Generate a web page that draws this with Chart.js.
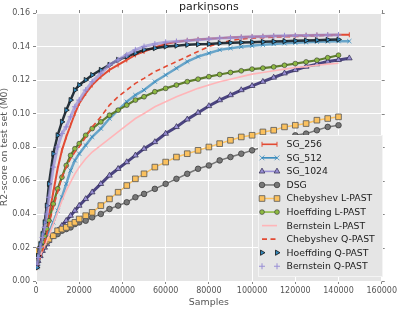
<!DOCTYPE html>
<html>
<head>
<meta charset="utf-8">
<script src="https://cdn.jsdelivr.net/npm/chart.js@4.4.0/dist/chart.umd.min.js"></script>
<style>
  html, body { margin: 0; padding: 0; background: #fff; }
  #wrap { width: 399px; height: 309px; position: relative; }
</style>
</head>
<body>
<div id="wrap"><canvas id="chart"></canvas></div>
<script>
// Sample counts at which each run was scored
const samples = [500, 1000, 2000, 3000, 4000, 5000, 6000, 8000, 10000, 12000,
    14000, 16000, 18000, 20000, 23000, 26000, 30000, 34000, 38000, 42000,
    46000, 50000, 55000, 60000, 65000, 70000, 75000, 80000, 85000, 90000,
    95000, 100000, 105000, 110000, 115000, 120000, 125000, 130000, 135000, 140000, 145000];

const seriesNames = ['SG_256', 'SG_512', 'SG_1024', 'DSG', 'Chebyshev L-PAST', 'Hoeffding L-PAST',
    'Bernstein L-PAST', 'Chebyshev Q-PAST', 'Hoeffding Q-PAST', 'Bernstein Q-PAST'];

const sg256 = [0.008, 0.012, 0.016, 0.020, 0.025, 0.031, 0.039, 0.053, 0.067, 0.078,
    0.086, 0.093, 0.100, 0.106, 0.112, 0.117, 0.122, 0.126, 0.129, 0.132,
    0.135, 0.137, 0.1395, 0.1415, 0.1428, 0.1436, 0.1442, 0.1446, 0.145, 0.1453,
    0.1456, 0.1458, 0.146, 0.1462, 0.1463, 0.1465, 0.1466, 0.1468, 0.1469, 0.147, 0.147];
const sg512 = [0.008, 0.011, 0.015, 0.019, 0.023, 0.026, 0.029, 0.035, 0.042, 0.050,
    0.058, 0.066, 0.072, 0.076, 0.081, 0.086, 0.091, 0.097, 0.102, 0.107,
    0.111, 0.114, 0.119, 0.123, 0.127, 0.131, 0.134, 0.136, 0.138, 0.139,
    0.1398, 0.1404, 0.141, 0.1415, 0.1419, 0.1422, 0.1425, 0.1428, 0.143, 0.1432, 0.1432];
const sg1024 = [0.010, 0.012, 0.015, 0.018, 0.020, 0.022, 0.024, 0.027, 0.030, 0.033,
    0.036, 0.039, 0.042, 0.045, 0.049, 0.053, 0.058, 0.063, 0.067, 0.071,
    0.075, 0.079, 0.083, 0.088, 0.092, 0.0965, 0.1005, 0.1045, 0.108, 0.111,
    0.114, 0.1165, 0.119, 0.1215, 0.124, 0.126, 0.128, 0.1295, 0.131, 0.132, 0.133];
const dsg = [0.015, 0.016, 0.019, 0.021, 0.023, 0.024, 0.025, 0.027, 0.028, 0.030,
    0.031, 0.032, 0.034, 0.035, 0.036, 0.038, 0.040, 0.043, 0.045, 0.047,
    0.050, 0.052, 0.055, 0.058, 0.061, 0.064, 0.067, 0.069, 0.072, 0.074,
    0.076, 0.078, 0.080, 0.082, 0.085, 0.087, 0.088, 0.090, 0.092, 0.093];
const chebyshevL = [0.017, 0.018, 0.019, 0.021, 0.023, 0.024, 0.025, 0.027, 0.030, 0.031,
    0.032, 0.034, 0.035, 0.037, 0.039, 0.041, 0.045, 0.049, 0.053, 0.057,
    0.061, 0.064, 0.068, 0.071, 0.074, 0.076, 0.078, 0.080, 0.082, 0.084,
    0.086, 0.087, 0.089, 0.090, 0.092, 0.093, 0.094, 0.096, 0.097, 0.098];
const hoeffdingL = [0.012, 0.015, 0.019, 0.023, 0.027, 0.031, 0.036, 0.046, 0.055, 0.062,
    0.069, 0.075, 0.079, 0.082, 0.087, 0.091, 0.095, 0.099, 0.102, 0.105,
    0.108, 0.110, 0.113, 0.115, 0.117, 0.119, 0.1205, 0.122, 0.1233, 0.1245,
    0.1255, 0.1265, 0.1271, 0.1278, 0.1288, 0.1298, 0.1308, 0.1318, 0.1333, 0.1348];
const bernsteinL = [0.010, 0.012, 0.015, 0.018, 0.021, 0.024, 0.027, 0.034, 0.041, 0.048,
    0.054, 0.059, 0.064, 0.068, 0.073, 0.077, 0.081, 0.085, 0.089, 0.093,
    0.097, 0.100, 0.104, 0.107, 0.110, 0.1125, 0.115, 0.117, 0.119, 0.1205,
    0.122, 0.1235, 0.1245, 0.1255, 0.1265, 0.1275, 0.128, 0.1288, 0.1295, 0.130];
const chebyshevQ = [0.008, 0.010, 0.014, 0.018, 0.023, 0.028, 0.034, 0.044, 0.053, 0.062,
    0.068, 0.073, 0.077, 0.080, 0.086, 0.092, 0.098, 0.105, 0.110, 0.114,
    0.118, 0.121, 0.125, 0.128, 0.131, 0.134, 0.137, 0.140, 0.142, 0.1435,
    0.1445, 0.145, 0.1453, 0.1456, 0.1458, 0.146, 0.1462, 0.1464, 0.1466, 0.1467];
const hoeffdingQ = [0.008, 0.015, 0.022, 0.028, 0.035, 0.045, 0.058, 0.076, 0.087, 0.095,
    0.102, 0.108, 0.114, 0.117, 0.120, 0.123, 0.126, 0.129, 0.132, 0.134,
    0.136, 0.138, 0.139, 0.140, 0.1405, 0.141, 0.1413, 0.1415, 0.142, 0.1422,
    0.1424, 0.1426, 0.1428, 0.143, 0.1432, 0.1434, 0.1436, 0.1438, 0.144, 0.1442];
const bernsteinQ = [0.010, 0.014, 0.020, 0.026, 0.032, 0.040, 0.050, 0.068, 0.080, 0.088,
    0.092, 0.098, 0.104, 0.108, 0.114, 0.119, 0.124, 0.129, 0.132, 0.135,
    0.138, 0.140, 0.1415, 0.1425, 0.143, 0.1435, 0.144, 0.1445, 0.145, 0.1452,
    0.1455, 0.1458, 0.146, 0.1462, 0.1464, 0.1465, 0.1466, 0.1467, 0.1468, 0.1469];

const xTicks = [0, 20000, 40000, 60000, 80000, 100000, 120000, 140000, 160000];
const yTicks = [0.00, 0.02, 0.04, 0.06, 0.08, 0.10, 0.12, 0.14, 0.16];

// ggplot-ish palette
const RED = '#E24A33', BLUE = '#348ABD', PURPLE = '#988ED5', GRAY = '#777777',
      YELLOW = '#FBC15E', GREEN = '#8EBA42', PINK = '#FFB5B8';

function toPoints(vals) {
    return vals.map((v, i) => ({ x: samples[i], y: v }));
}

// style per series (legend uses the same info)
// bandLine = what the dense marker chain looks like on the plot
const styles = [
    { data: sg256, line: RED, width: 2, marker: 'vline', r: 2.5, fill: RED, edge: RED, ew: 1 },
    { data: sg512, line: BLUE, bandLine: 'rgba(52,138,189,0.7)', width: 2.5, marker: 'crossRot', r: 3, fill: BLUE, edge: 'rgba(52,138,189,0.8)', ew: 1 },
    { data: sg1024, line: PURPLE, bandLine: '#4b4480', width: 3, marker: 'triangle', r: 3.3, fill: PURPLE, edge: '#2e2a4a', ew: 0.7 },
    { data: dsg, line: GRAY, width: 1.5, marker: 'circle', r: 2.8, fill: GRAY, edge: '#333', ew: 0.7 },
    { data: chebyshevL, line: YELLOW, width: 1.5, marker: 'rect', r: 4, fill: YELLOW, edge: '#555', ew: 0.8 },
    { data: hoeffdingL, line: GREEN, bandLine: '#5f7f2c', width: 2.2, marker: 'circle', r: 2.4, fill: GREEN, edge: '#333', ew: 0.6 },
    { data: bernsteinL, line: PINK, width: 1.6, marker: null },
    { data: chebyshevQ, line: RED, width: 1.6, dash: [5, 3.5], marker: null },
    { data: hoeffdingQ, line: BLUE, bandLine: 'rgba(18,30,40,0.9)', width: 2.5, noLegendLine: true, marker: 'triangleRight', r: 3, fill: BLUE, edge: '#111', ew: 0.8 },
    { data: bernsteinQ, line: PURPLE, bandLine: 'rgba(152,142,213,0.7)', width: 3, noLegendLine: true, marker: 'cross', r: 3, fill: PURPLE, edge: PURPLE, ew: 1 }
];

const chartStyleMap = { vline: 'line', triangleRight: 'triangle' };

const datasets = styles.map((s, i) => ({
    label: seriesNames[i],
    data: toPoints(s.data),
    borderColor: s.bandLine || s.line,
    borderWidth: s.width,
    borderDash: s.dash || [],
    fill: false,
    tension: 0,
    pointRadius: s.marker ? s.r : 0,
    pointStyle: s.marker ? (chartStyleMap[s.marker] || s.marker) : 'circle',
    pointRotation: (s.marker === 'vline' || s.marker === 'triangleRight') ? 90 : 0,
    pointBackgroundColor: s.fill,
    pointBorderColor: s.edge,
    pointBorderWidth: s.ew || 0,
    pointHoverRadius: s.marker ? s.r : 0,
    order: styles.length - i
}));

// small marker painter for the legend handles
function drawMarker(ctx, s, x, y) {
    const r = s.r;
    ctx.save();
    ctx.fillStyle = s.fill;
    ctx.strokeStyle = s.edge;
    ctx.lineWidth = s.ew;
    ctx.setLineDash([]);
    ctx.beginPath();
    if (s.marker === 'circle') {
        ctx.arc(x, y, r, 0, Math.PI * 2);
        ctx.fill(); ctx.stroke();
    } else if (s.marker === 'rect') {
        const h = r * Math.SQRT1_2;
        ctx.rect(x - h, y - h, 2 * h, 2 * h);
        ctx.fill(); ctx.stroke();
    } else if (s.marker === 'triangle') {
        ctx.moveTo(x, y - r);
        ctx.lineTo(x + r * 0.866, y + r * 0.5);
        ctx.lineTo(x - r * 0.866, y + r * 0.5);
        ctx.closePath();
        ctx.fill(); ctx.stroke();
    } else if (s.marker === 'triangleRight') {
        ctx.moveTo(x + r, y);
        ctx.lineTo(x - r * 0.5, y - r * 0.866);
        ctx.lineTo(x - r * 0.5, y + r * 0.866);
        ctx.closePath();
        ctx.fill(); ctx.stroke();
    } else if (s.marker === 'cross') {
        ctx.moveTo(x - r, y); ctx.lineTo(x + r, y);
        ctx.moveTo(x, y - r); ctx.lineTo(x, y + r);
        ctx.stroke();
    } else if (s.marker === 'crossRot') {
        const d = r * 0.8;
        ctx.moveTo(x - d, y - d); ctx.lineTo(x + d, y + d);
        ctx.moveTo(x - d, y + d); ctx.lineTo(x + d, y - d);
        ctx.stroke();
    } else if (s.marker === 'vline') {
        ctx.moveTo(x, y - r); ctx.lineTo(x, y + r);
        ctx.stroke();
    }
    ctx.restore();
}

const decorPlugin = {
    id: 'decor',
    beforeDraw(chart) {
        const { ctx, chartArea: a } = chart;
        ctx.save();
        ctx.fillStyle = '#E5E5E5';
        ctx.fillRect(a.left, a.top, a.right - a.left, a.bottom - a.top);
        ctx.restore();
    },
    afterDraw(chart) {
        const { ctx, chartArea: a, scales } = chart;
        ctx.save();
        // tick marks on top and right edges
        ctx.strokeStyle = '#666';
        ctx.lineWidth = 0.8;
        ctx.beginPath();
        xTicks.forEach(v => {
            const px = Math.round(scales.x.getPixelForValue(v)) + 0.5;
            ctx.moveTo(px, a.top); ctx.lineTo(px, a.top - 3);
        });
        yTicks.forEach(v => {
            const py = Math.round(scales.y.getPixelForValue(v)) + 0.5;
            ctx.moveTo(a.right, py); ctx.lineTo(a.right + 3, py);
        });
        ctx.stroke();

        // title
        ctx.fillStyle = '#222';
        ctx.font = '11px "DejaVu Sans"';
        ctx.textAlign = 'center';
        ctx.textBaseline = 'alphabetic';
        ctx.fillText('parkinsons', (a.left + a.right) / 2, 9.5);

        // legend box
        const bx = 258, by = 135, bw = 125, bh = 142;
        ctx.fillStyle = '#E5E5E5';
        ctx.fillRect(bx, by, bw, bh);
        ctx.strokeStyle = '#f4f4f4';
        ctx.lineWidth = 1;
        ctx.strokeRect(bx + 0.5, by + 0.5, bw - 1, bh - 1);

        ctx.font = '9.3px "DejaVu Sans"';
        ctx.textAlign = 'left';
        ctx.textBaseline = 'middle';
        styles.forEach((s, i) => {
            const y = 144.3 + i * 13.55;
            const x0 = 262, x1 = 277;
            if (!s.noLegendLine) {
                ctx.save();
                ctx.strokeStyle = s.line;
                ctx.lineWidth = s.dash ? 1.6 : Math.min(s.width, 1.6);
                ctx.setLineDash(s.dash || []);
                ctx.beginPath();
                ctx.moveTo(x0, y); ctx.lineTo(x1, y);
                ctx.stroke();
                ctx.restore();
            }
            if (s.marker) {
                drawMarker(ctx, s, x0, y);
                drawMarker(ctx, s, x1, y);
            }
            ctx.fillStyle = '#222';
            ctx.fillText(seriesNames[i], 286.5, y + 0.5);
        });
        ctx.restore();
    }
};

const ctx = document.getElementById('chart').getContext('2d');
new Chart(ctx, {
    type: 'line',
    data: { datasets: datasets },
    options: {
        responsive: true,
        maintainAspectRatio: false,
        animation: false,
        devicePixelRatio: 1,
        layout: { padding: { top: 13, right: 15, bottom: 0, left: 0 } },
        plugins: {
            legend: { display: false },
            title: { display: false },
            tooltip: { enabled: false }
        },
        scales: {
            x: {
                type: 'linear',
                min: 0,
                max: 160000,
                afterBuildTicks(scale) { scale.ticks = xTicks.map(v => ({ value: v })); },
                afterFit(scale) { scale.height = 28; },
                border: { display: false },
                grid: { color: '#FFFFFF', lineWidth: 1, drawTicks: true, tickLength: 3, tickColor: '#666', tickWidth: 0.8 },
                ticks: {
                    color: '#555',
                    padding: 2,
                    maxRotation: 0,
                    font: { family: 'DejaVu Sans', size: 8 },
                    callback: v => String(v)
                },
                title: {
                    display: true,
                    text: 'Samples',
                    color: '#555',
                    font: { family: 'DejaVu Sans', size: 9.4, lineHeight: 1 },
                    padding: { top: 0, bottom: 1.5 }
                }
            },
            y: {
                type: 'linear',
                min: 0,
                max: 0.16,
                afterBuildTicks(scale) { scale.ticks = yTicks.map(v => ({ value: v })); },
                afterFit(scale) { scale.width = 36; },
                border: { display: false },
                grid: { color: '#FFFFFF', lineWidth: 1, drawTicks: true, tickLength: 3, tickColor: '#666', tickWidth: 0.8 },
                ticks: {
                    color: '#555',
                    padding: 3,
                    font: { family: 'DejaVu Sans', size: 8 },
                    callback: v => Number(v).toFixed(2)
                },
                title: {
                    display: true,
                    text: 'R2-score on test set (M0)',
                    color: '#555',
                    font: { family: 'DejaVu Sans', size: 9.4, lineHeight: 1 },
                    padding: { top: 0, bottom: 0 }
                }
            }
        }
    },
    plugins: [decorPlugin]
});
</script>
</body>
</html>
